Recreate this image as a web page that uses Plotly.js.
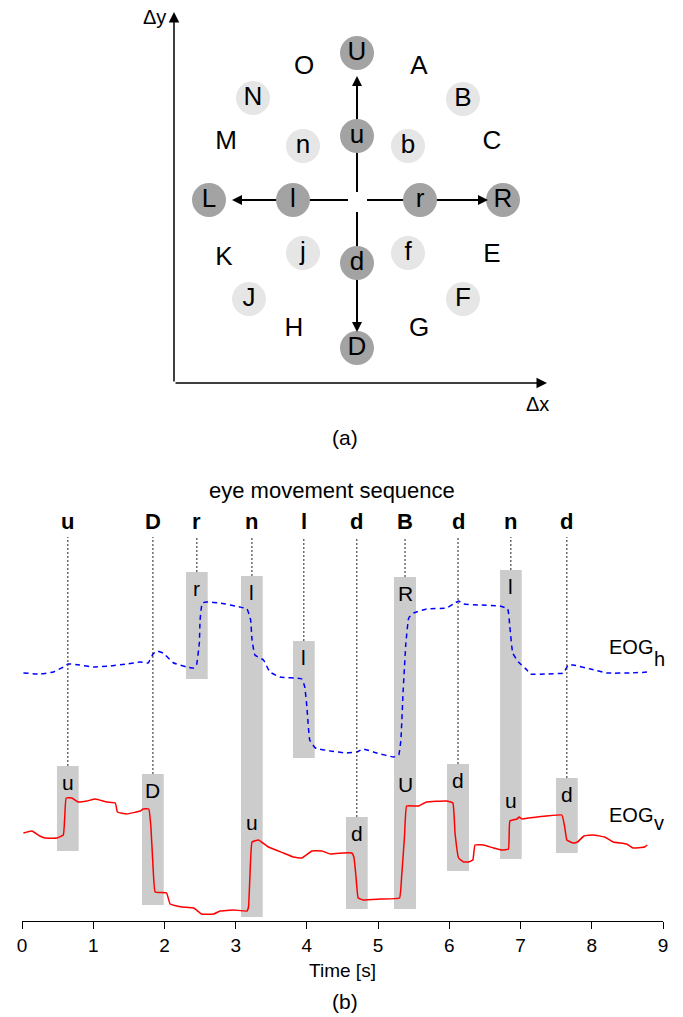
<!DOCTYPE html>
<html>
<head>
<meta charset="utf-8">
<script src="https://cdn.plot.ly/plotly-3.0.1.min.js"></script>
<style>html,body{margin:0;padding:0;background:#fff;}#chart{width:683px;height:1017px;}</style>
</head>
<body>
<div id="chart"></div>
<script>
// ---------- (a) saccade direction diagram ----------
const dirLabels = ['U','u','d','D','L','l','r','R','N','n','b','B','j','f','J','F'];
const dirDx     = [0, 0, 0, 0, -148, -64, 63, 146, -104, -54, 51, 106, -54, 51, -108, 106];
const dirDy     = [147, 64, -63, -148, 0, 0, 0, 0, 102, 54, 54, 101, -53, -53, -99, -99];
const dirKind   = ['dark','dark','dark','dark','dark','dark','dark','dark','light','light','light','light','light','light','light','light'];
const plainLabels = ['O','A','M','C','K','E','H','G'];
const plainDx     = [-53, 62, -131, 135, -133, 135, -63, 62];
const plainDy     = [133, 133, 58, 58, -58, -55, -129, -129];
// arrows: start (near origin) and tip
const arrStartDx = [0, 0, -9, 10];
const arrStartDy = [8, -12, 0, 0];
const arrTipDx   = [0, 0, -125, 131];
const arrTipDy   = [124, -132, 0, 0];
// diagram axes
const axOrigin = [-183, -183];
const axTipX = 190, axTipY = 188;

// ---------- (b) EOG signals ----------
const tH = [0.02,0.25,0.44,0.58,0.65,0.81,1.00,1.24,1.47,1.66,1.77,1.84,1.89,1.98,2.13,2.31,2.41,2.45,2.49,2.50,2.53,2.59,2.78,3.06,3.16,3.21,3.23,3.27,3.39,3.48,3.62,3.93,3.97,4.00,4.04,4.12,4.33,4.56,4.70,4.79,4.98,5.22,5.29,5.32,5.35,5.39,5.43,5.50,5.68,5.96,6.08,6.13,6.20,6.43,6.71,6.82,6.85,6.89,6.97,7.09,7.13,7.37,7.60,7.67,7.74,7.98,8.21,8.54,8.80];
const eogH = [248,247,249,254,257,256,254,255,257,259,258,267,270,268,258,254,253,256,278,301,318,319,318,314,312,301,281,266,261,249,244,242,234,214,181,173,170,168,169,172,168,164,166,181,228,278,303,308,312,313,318,320,317,316,315,312,294,268,259,251,247,247,248,256,256,252,248,248,249];
const tV = [0.02,0.14,0.25,0.32,0.49,0.58,0.60,0.62,0.70,0.79,0.91,1.03,1.19,1.31,1.34,1.47,1.66,1.70,1.78,1.81,1.84,1.87,2.03,2.08,2.24,2.41,2.52,2.69,2.78,2.97,3.16,3.18,3.20,3.23,3.32,3.46,3.67,3.81,3.93,4.07,4.21,4.33,4.51,4.63,4.66,4.69,4.72,4.79,5.03,5.30,5.33,5.37,5.40,5.50,5.57,5.68,5.96,6.05,6.08,6.13,6.20,6.27,6.33,6.36,6.48,6.62,6.74,6.83,6.85,6.95,6.98,7.02,7.23,7.58,7.62,7.65,7.74,7.80,7.89,8.02,8.18,8.30,8.49,8.58,8.74,8.78];
const eogV = [88,90,85,83,83,86,104,123,123,119,120,122,119,118,109,107,110,112,112,94,54,29,28,17,14,13,7,7,10,11,10,14,44,79,81,74,68,64,63,70,70,67,68,68,64,44,23,21,22,23,44,84,115,115,115,119,120,118,88,63,59,59,61,76,76,73,71,72,100,102,104,102,104,106,94,81,78,79,85,86,84,79,77,73,74,76];

// detected movement boxes
const boxLabel = ['r','l','l','R','l','u','D','u','d','U','d','u','d'];
const boxT0    = [2.303,3.075,3.805,5.223,6.712,0.491,1.685,3.075,4.549,5.223,5.967,6.712,7.498];
const boxT1    = [2.607,3.380,4.110,5.532,7.016,0.796,1.990,3.380,4.854,5.532,6.276,7.016,7.803];
const boxLo    = [242,115,163,153,137,70,16,4,12,12,50,62,68];
const boxHi    = [349,345,280,344,351,155,147,115,104,153,157,137,143];

// eye movement sequence
const seqLabel = ['u','D','r','n','l','d','B','d','n','d'];
const seqTime  = [0.644,1.838,2.455,3.228,3.957,4.701,5.378,6.122,6.864,7.650];
const xTicks   = [0,1,2,3,4,5,6,7,8,9];

// signal labels
const sigName = ['EOG','EOG'];
const sigSub  = ['h','v'];
const sigLevel = [274, 106];
const sigSubLevel = [262, 98];

const FONT = 'Liberation Sans, Arial, Helvetica, sans-serif';
const W = 683, H = 1017;
const Y2TOP = 450;

const traces = [];
const shapes = [];
const annotations = [];

// arrow shafts (below circles)
const sx = [], sy = [];
for (let i = 0; i < arrStartDx.length; i++) {
  sx.push(arrStartDx[i], arrTipDx[i] - Math.sign(arrTipDx[i]) * 5, null);
  sy.push(arrStartDy[i], arrTipDy[i] - Math.sign(arrTipDy[i]) * 5, null);
}
traces.push({x: sx, y: sy, xaxis: 'x', yaxis: 'y', mode: 'lines',
  line: {color: '#000', width: 2}, hoverinfo: 'skip', showlegend: false});

// circles
traces.push({x: dirDx, y: dirDy, xaxis: 'x', yaxis: 'y', mode: 'markers+text',
  text: dirLabels, textposition: 'middle center',
  textfont: {family: FONT, size: 26, color: '#000'},
  marker: {size: 34, color: dirKind.map(k => k === 'dark' ? '#a3a3a3' : '#e6e6e6'), line: {width: 0}},
  hoverinfo: 'skip', showlegend: false, cliponaxis: false});
traces.push({x: plainDx, y: plainDy, xaxis: 'x', yaxis: 'y', mode: 'text',
  text: plainLabels, textposition: 'middle center',
  textfont: {family: FONT, size: 26, color: '#000'},
  hoverinfo: 'skip', showlegend: false, cliponaxis: false});

// arrow heads
for (let i = 0; i < arrTipDx.length; i++) {
  annotations.push({x: arrTipDx[i], y: arrTipDy[i], xref: 'x', yref: 'y',
    ax: arrTipDx[i] - Math.sign(arrTipDx[i]) * 25, ay: arrTipDy[i] - Math.sign(arrTipDy[i]) * 25,
    axref: 'x', ayref: 'y', text: '', showarrow: true, arrowhead: 2, arrowsize: 1, arrowwidth: 2, arrowcolor: '#000'});
}
// diagram axes
annotations.push({x: axOrigin[0], y: axTipY, xref: 'x', yref: 'y', ax: axOrigin[0], ay: axOrigin[1],
  axref: 'x', ayref: 'y', text: '', showarrow: true, arrowhead: 2, arrowsize: 1.4, arrowwidth: 1.5, arrowcolor: '#000'});
annotations.push({x: axTipX, y: axOrigin[1], xref: 'x', yref: 'y', ax: axOrigin[0], ay: axOrigin[1],
  axref: 'x', ayref: 'y', text: '', showarrow: true, arrowhead: 2, arrowsize: 1.4, arrowwidth: 1.5, arrowcolor: '#000'});
annotations.push({x: axOrigin[0] - 20, y: axTipY - 5, xref: 'x', yref: 'y', text: 'Δy', showarrow: false,
  font: {family: FONT, size: 20, color: '#000'}});
annotations.push({x: axTipX - 10, y: axOrigin[1] - 21, xref: 'x', yref: 'y', text: 'Δx', showarrow: false,
  font: {family: FONT, size: 20, color: '#000'}});
annotations.push({x: 345 / W, y: 1 - 437 / H, xref: 'paper', yref: 'paper', yanchor: 'middle', text: '(a)', showarrow: false,
  font: {family: FONT, size: 21, color: '#000'}});

// ---------- (b) ----------
for (let i = 0; i < boxLabel.length; i++) {
  shapes.push({type: 'rect', xref: 'x2', yref: 'y2', x0: boxT0[i], x1: boxT1[i], y0: boxLo[i], y1: boxHi[i],
    fillcolor: '#cccccc', line: {width: 0}, layer: 'below'});
  annotations.push({x: (boxT0[i] + boxT1[i]) / 2, y: boxHi[i], xref: 'x2', yref: 'y2', yanchor: 'middle',
    yshift: -16, text: boxLabel[i], showarrow: false, font: {family: FONT, size: 21, color: '#000'}});
}
const seqTop = 384;
for (let i = 0; i < seqLabel.length; i++) {
  let top = 0;
  for (let j = 0; j < boxLabel.length; j++) {
    if (seqTime[i] >= boxT0[j] && seqTime[i] <= boxT1[j]) top = Math.max(top, boxHi[j]);
  }
  shapes.push({type: 'line', xref: 'x2', yref: 'y2', x0: seqTime[i], x1: seqTime[i], y0: top, y1: seqTop,
    line: {color: '#222', width: 1, dash: '2px,2px'}});
  annotations.push({x: seqTime[i], y: seqTop, xref: 'x2', yref: 'y2', yanchor: 'bottom', yshift: 1,
    text: '<b>' + seqLabel[i] + '</b>', showarrow: false, font: {family: FONT, size: 22, color: '#000'}});
}
annotations.push({x: 4.5, y: 431, xref: 'x2', yref: 'y2', yanchor: 'middle', xshift: -11, text: 'eye movement sequence', showarrow: false,
  font: {family: FONT, size: 22, color: '#000'}});

traces.push({x: tH, y: eogH, xaxis: 'x2', yaxis: 'y2', mode: 'lines',
  line: {color: '#0000ff', width: 1.5, dash: '5px,4px', shape: 'spline', smoothing: 0.3}, hoverinfo: 'skip', showlegend: false, cliponaxis: false});
traces.push({x: tV, y: eogV, xaxis: 'x2', yaxis: 'y2', mode: 'lines',
  line: {color: '#ff0000', width: 1.5, shape: 'spline', smoothing: 0.3}, hoverinfo: 'skip', showlegend: false, cliponaxis: false});

for (let i = 0; i < sigName.length; i++) {
  annotations.push({x: 8.209, y: sigLevel[i], xref: 'x2', yref: 'y2', xanchor: 'left', yanchor: 'middle', showarrow: false,
    text: sigName[i], font: {family: FONT, size: 20, color: '#000'}});
  annotations.push({x: 8.846, y: sigSubLevel[i], xref: 'x2', yref: 'y2', xanchor: 'left', yanchor: 'middle', showarrow: false,
    text: sigSub[i], font: {family: FONT, size: 20, color: '#000'}});
}
annotations.push({x: 345 / W, y: 1 - 1001 / H, xref: 'paper', yref: 'paper', yanchor: 'middle', text: '(b)', showarrow: false,
  font: {family: FONT, size: 21, color: '#000'}});

const layout = {
  width: W, height: H,
  margin: {l: 0, r: 0, t: 0, b: 0},
  paper_bgcolor: '#fff', plot_bgcolor: 'rgba(0,0,0,0)',
  font: {family: FONT, color: '#000'},
  showlegend: false,
  xaxis: {domain: [0, 1], range: [-357, W - 357], visible: false, fixedrange: true},
  yaxis: {domain: [0, 1], range: [200 - H, 200], visible: false, fixedrange: true},
  xaxis2: {domain: [22 / W, 663 / W], range: [0, 9], anchor: 'y2',
    showline: true, linecolor: '#000', linewidth: 1, ticks: 'outside', ticklen: 7, tickwidth: 1, tickcolor: '#000',
    tickmode: 'array', tickvals: xTicks, ticktext: xTicks.map(String), showgrid: false, zeroline: false,
    tickfont: {family: FONT, size: 19, color: '#000'},
    title: {text: 'Time [s]', font: {family: FONT, size: 19, color: '#000'}, standoff: 8}},
  yaxis2: {domain: [(H - 921) / H, (H - 921 + Y2TOP) / H], range: [0, Y2TOP], anchor: 'x2', visible: false},
  shapes: shapes,
  annotations: annotations
};

Plotly.newPlot('chart', traces, layout, {staticPlot: true, displayModeBar: false});
</script>
</body>
</html>
